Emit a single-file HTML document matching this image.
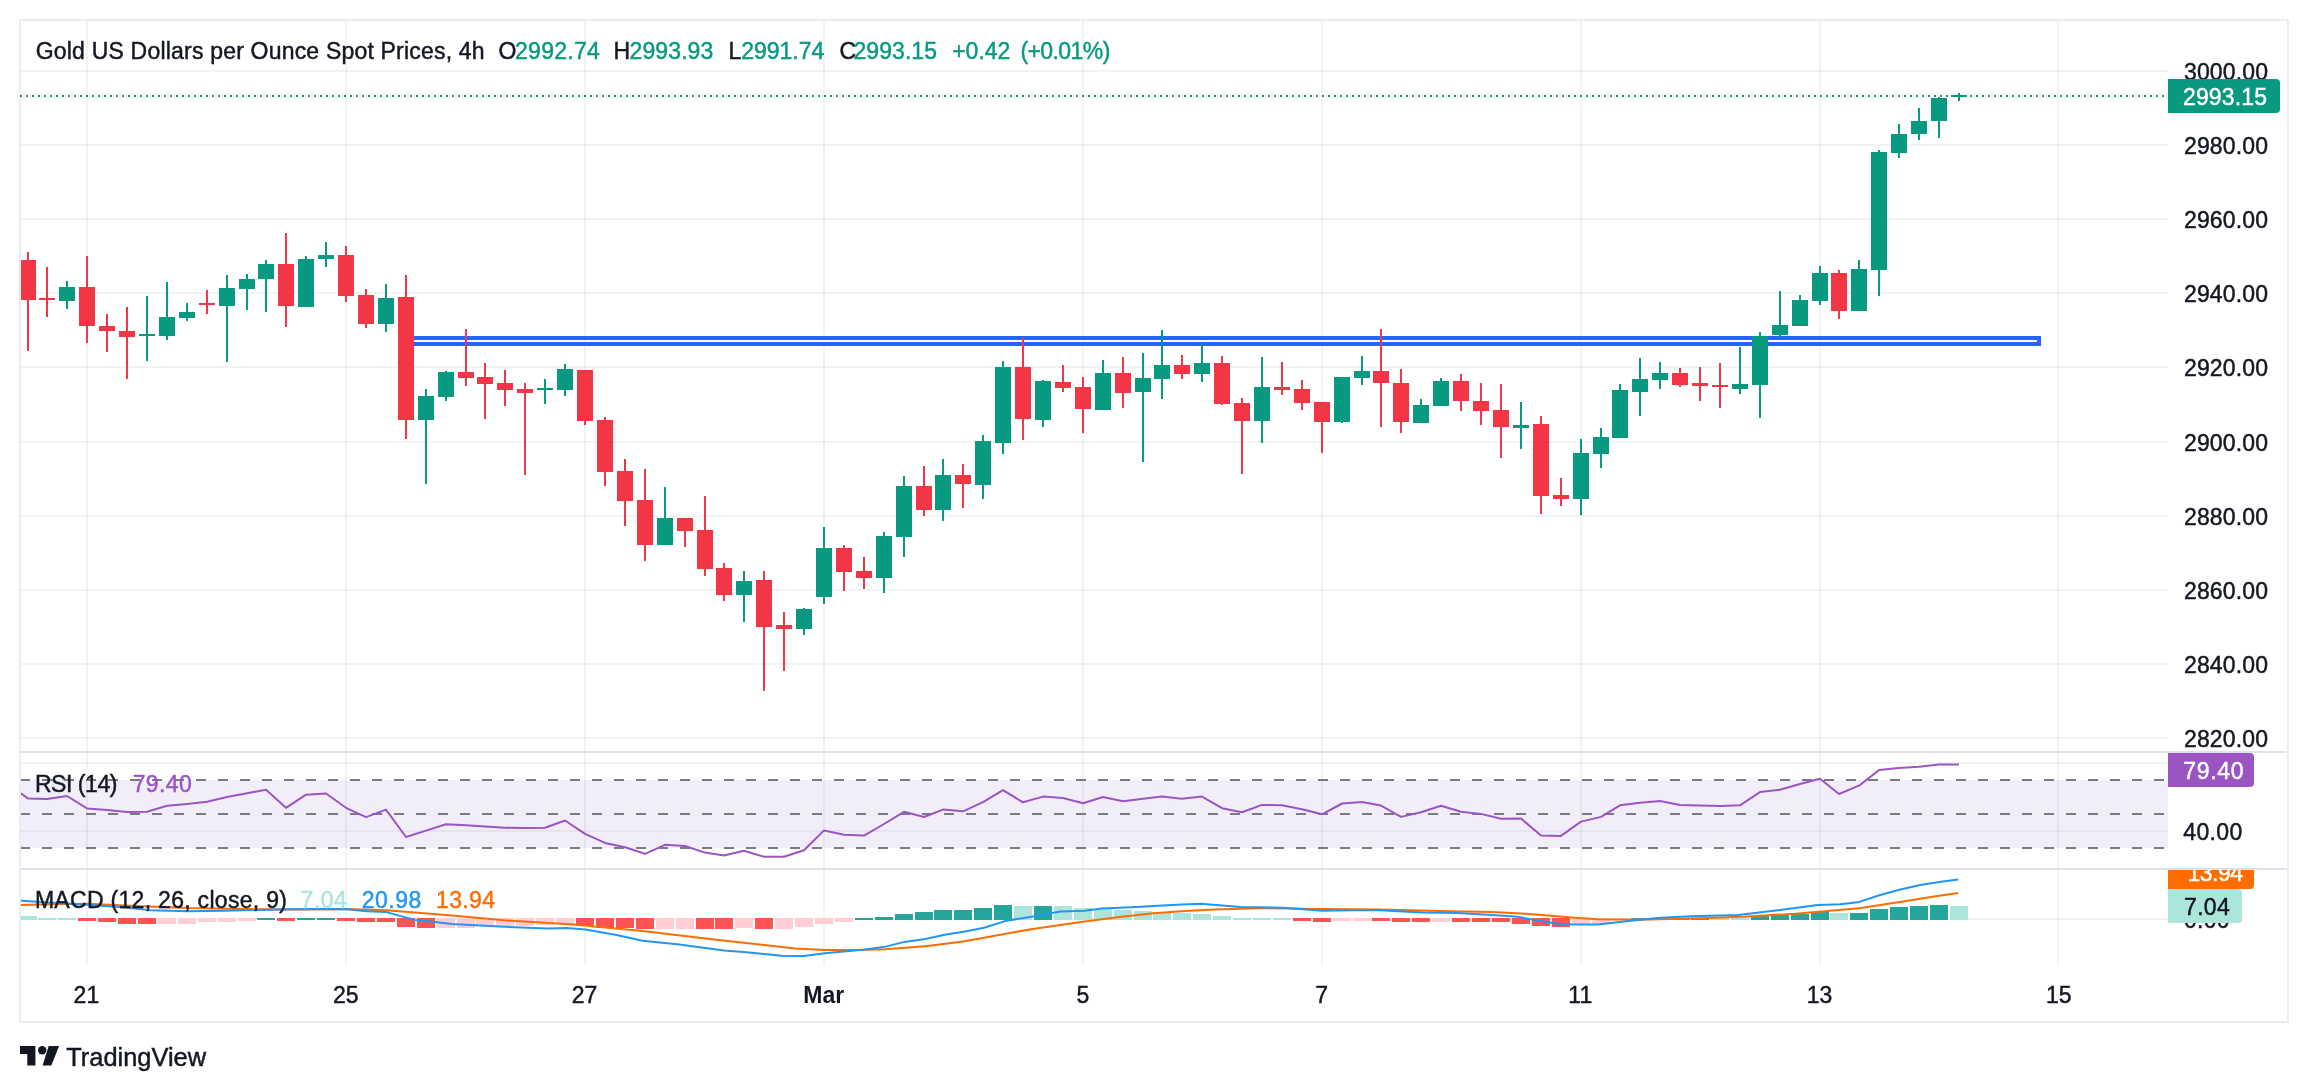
<!DOCTYPE html><html><head><meta charset="utf-8"><title>Gold 4h chart</title><style>html,body{margin:0;padding:0;background:#fff;}body{width:2308px;height:1092px;overflow:hidden;}svg{display:block;will-change:transform;} text{shape-rendering:auto;}</style></head><body><svg width="2308" height="1092" viewBox="0 0 2308 1092" font-family='"Liberation Sans", sans-serif' shape-rendering="crispEdges"><g fill="rgba(42,46,57,0.06)"><rect x="21" y="70" width="2147" height="2"/><rect x="21" y="144" width="2147" height="2"/><rect x="21" y="218" width="2147" height="2"/><rect x="21" y="292" width="2147" height="2"/><rect x="21" y="366" width="2147" height="2"/><rect x="21" y="441" width="2147" height="2"/><rect x="21" y="515" width="2147" height="2"/><rect x="21" y="589" width="2147" height="2"/><rect x="21" y="663" width="2147" height="2"/><rect x="21" y="737" width="2147" height="2"/><rect x="86" y="21" width="2" height="944"/><rect x="345" y="21" width="2" height="944"/><rect x="584" y="21" width="2" height="944"/><rect x="823" y="21" width="2" height="944"/><rect x="1082" y="21" width="2" height="944"/><rect x="1321" y="21" width="2" height="944"/><rect x="1580" y="21" width="2" height="944"/><rect x="1819" y="21" width="2" height="944"/><rect x="2057" y="21" width="2" height="944"/><rect x="21" y="762" width="2147" height="2"/><rect x="21" y="830" width="2147" height="2"/><rect x="21" y="918" width="2147" height="2"/></g>
<rect x="21" y="780" width="2147" height="68" fill="rgba(126,87,194,0.1)"/>
<line x1="20" y1="780" x2="2168" y2="780" stroke="#787B86" stroke-width="2" stroke-dasharray="10 12"/>
<line x1="20" y1="814" x2="2168" y2="814" stroke="#787B86" stroke-width="2" stroke-dasharray="10 12"/>
<line x1="20" y1="848" x2="2168" y2="848" stroke="#787B86" stroke-width="2" stroke-dasharray="10 12"/>
<g fill="#EBECF0"><rect x="19" y="19" width="2270" height="2"/><rect x="19" y="1021" width="2270" height="2"/><rect x="19" y="19" width="2" height="1004"/><rect x="2287" y="19" width="2" height="1004"/></g>
<g fill="#DEE1E9"><rect x="21" y="751" width="2266" height="2"/><rect x="21" y="868" width="2266" height="2"/></g>
<defs><clipPath id="cm"><rect x="21" y="21" width="2147" height="730"/></clipPath><clipPath id="cr"><rect x="21" y="753" width="2147" height="115"/></clipPath><clipPath id="cd"><rect x="21" y="870" width="2147" height="95"/></clipPath></defs>
<line x1="20" y1="96" x2="2168" y2="96" stroke="#089981" stroke-width="2" stroke-dasharray="2 4"/>
<rect x="402" y="338" width="1637" height="6" fill="none" stroke="#2962FF" stroke-width="4"/>
<g clip-path="url(#cm)">
<g fill="#089981"><rect x="66" y="281" width="2" height="28"/><rect x="59" y="287" width="16" height="14"/><rect x="146" y="296" width="2" height="65"/><rect x="139" y="334" width="16" height="2"/><rect x="166" y="282" width="2" height="58"/><rect x="159" y="317" width="16" height="19"/><rect x="186" y="303" width="2" height="18"/><rect x="179" y="312" width="16" height="6"/><rect x="226" y="275" width="2" height="87"/><rect x="219" y="288" width="16" height="18"/><rect x="246" y="274" width="2" height="36"/><rect x="239" y="279" width="16" height="10"/><rect x="265" y="260" width="2" height="52"/><rect x="258" y="264" width="16" height="15"/><rect x="305" y="256" width="2" height="51"/><rect x="298" y="259" width="16" height="48"/><rect x="325" y="242" width="2" height="25"/><rect x="318" y="255" width="16" height="4"/><rect x="385" y="284" width="2" height="48"/><rect x="378" y="298" width="16" height="26"/><rect x="425" y="389" width="2" height="95"/><rect x="418" y="396" width="16" height="24"/><rect x="445" y="371" width="2" height="30"/><rect x="438" y="372" width="16" height="25"/><rect x="544" y="379" width="2" height="25"/><rect x="537" y="388" width="16" height="2"/><rect x="564" y="364" width="2" height="32"/><rect x="557" y="369" width="16" height="21"/><rect x="664" y="487" width="2" height="58"/><rect x="657" y="518" width="16" height="27"/><rect x="743" y="571" width="2" height="51"/><rect x="736" y="581" width="16" height="14"/><rect x="803" y="608" width="2" height="27"/><rect x="796" y="609" width="16" height="20"/><rect x="823" y="527" width="2" height="77"/><rect x="816" y="548" width="16" height="49"/><rect x="883" y="532" width="2" height="61"/><rect x="876" y="536" width="16" height="42"/><rect x="903" y="476" width="2" height="81"/><rect x="896" y="486" width="16" height="51"/><rect x="942" y="459" width="2" height="62"/><rect x="935" y="475" width="16" height="35"/><rect x="982" y="435" width="2" height="64"/><rect x="975" y="441" width="16" height="44"/><rect x="1002" y="361" width="2" height="93"/><rect x="995" y="367" width="16" height="76"/><rect x="1042" y="380" width="2" height="47"/><rect x="1035" y="381" width="16" height="39"/><rect x="1102" y="360" width="2" height="50"/><rect x="1095" y="373" width="16" height="37"/><rect x="1142" y="353" width="2" height="109"/><rect x="1135" y="378" width="16" height="14"/><rect x="1161" y="330" width="2" height="69"/><rect x="1154" y="365" width="16" height="14"/><rect x="1201" y="343" width="2" height="39"/><rect x="1194" y="363" width="16" height="11"/><rect x="1261" y="357" width="2" height="86"/><rect x="1254" y="387" width="16" height="34"/><rect x="1341" y="377" width="2" height="46"/><rect x="1334" y="377" width="16" height="45"/><rect x="1361" y="356" width="2" height="29"/><rect x="1354" y="371" width="16" height="7"/><rect x="1420" y="399" width="2" height="24"/><rect x="1413" y="405" width="16" height="18"/><rect x="1440" y="378" width="2" height="28"/><rect x="1433" y="381" width="16" height="25"/><rect x="1520" y="402" width="2" height="47"/><rect x="1513" y="425" width="16" height="3"/><rect x="1580" y="439" width="2" height="76"/><rect x="1573" y="453" width="16" height="46"/><rect x="1600" y="428" width="2" height="40"/><rect x="1593" y="437" width="16" height="17"/><rect x="1619" y="384" width="2" height="54"/><rect x="1612" y="390" width="16" height="48"/><rect x="1639" y="358" width="2" height="58"/><rect x="1632" y="379" width="16" height="13"/><rect x="1659" y="362" width="2" height="27"/><rect x="1652" y="373" width="16" height="7"/><rect x="1739" y="347" width="2" height="47"/><rect x="1732" y="384" width="16" height="5"/><rect x="1759" y="332" width="2" height="86"/><rect x="1752" y="336" width="16" height="49"/><rect x="1779" y="291" width="2" height="46"/><rect x="1772" y="325" width="16" height="10"/><rect x="1799" y="295" width="2" height="31"/><rect x="1792" y="300" width="16" height="26"/><rect x="1819" y="266" width="2" height="39"/><rect x="1812" y="273" width="16" height="28"/><rect x="1858" y="260" width="2" height="51"/><rect x="1851" y="269" width="16" height="42"/><rect x="1878" y="150" width="2" height="146"/><rect x="1871" y="152" width="16" height="118"/><rect x="1898" y="124" width="2" height="34"/><rect x="1891" y="134" width="16" height="19"/><rect x="1918" y="108" width="2" height="32"/><rect x="1911" y="121" width="16" height="13"/><rect x="1938" y="97" width="2" height="41"/><rect x="1931" y="98" width="16" height="23"/><rect x="1958" y="93" width="2" height="8"/><rect x="1951" y="95" width="16" height="2"/></g>
<g fill="#F23645"><rect x="27" y="252" width="2" height="99"/><rect x="20" y="260" width="16" height="40"/><rect x="46" y="267" width="2" height="50"/><rect x="39" y="298" width="16" height="2"/><rect x="86" y="256" width="2" height="87"/><rect x="79" y="287" width="16" height="39"/><rect x="106" y="314" width="2" height="38"/><rect x="99" y="326" width="16" height="5"/><rect x="126" y="307" width="2" height="72"/><rect x="119" y="331" width="16" height="6"/><rect x="206" y="290" width="2" height="24"/><rect x="199" y="303" width="16" height="2"/><rect x="285" y="233" width="2" height="94"/><rect x="278" y="264" width="16" height="42"/><rect x="345" y="246" width="2" height="56"/><rect x="338" y="255" width="16" height="41"/><rect x="365" y="289" width="2" height="39"/><rect x="358" y="295" width="16" height="29"/><rect x="405" y="275" width="2" height="164"/><rect x="398" y="297" width="16" height="123"/><rect x="465" y="329" width="2" height="57"/><rect x="458" y="372" width="16" height="6"/><rect x="484" y="363" width="2" height="56"/><rect x="477" y="377" width="16" height="7"/><rect x="504" y="370" width="2" height="36"/><rect x="497" y="383" width="16" height="7"/><rect x="524" y="383" width="2" height="92"/><rect x="517" y="389" width="16" height="4"/><rect x="584" y="370" width="2" height="55"/><rect x="577" y="370" width="16" height="51"/><rect x="604" y="417" width="2" height="69"/><rect x="597" y="420" width="16" height="52"/><rect x="624" y="459" width="2" height="67"/><rect x="617" y="471" width="16" height="30"/><rect x="644" y="469" width="2" height="92"/><rect x="637" y="500" width="16" height="45"/><rect x="684" y="518" width="2" height="29"/><rect x="677" y="518" width="16" height="13"/><rect x="704" y="496" width="2" height="80"/><rect x="697" y="530" width="16" height="39"/><rect x="723" y="563" width="2" height="38"/><rect x="716" y="568" width="16" height="27"/><rect x="763" y="571" width="2" height="120"/><rect x="756" y="580" width="16" height="47"/><rect x="783" y="612" width="2" height="59"/><rect x="776" y="625" width="16" height="4"/><rect x="843" y="545" width="2" height="46"/><rect x="836" y="548" width="16" height="24"/><rect x="863" y="557" width="2" height="32"/><rect x="856" y="571" width="16" height="7"/><rect x="923" y="466" width="2" height="50"/><rect x="916" y="486" width="16" height="24"/><rect x="962" y="464" width="2" height="44"/><rect x="955" y="475" width="16" height="9"/><rect x="1022" y="338" width="2" height="102"/><rect x="1015" y="367" width="16" height="52"/><rect x="1062" y="365" width="2" height="27"/><rect x="1055" y="382" width="16" height="6"/><rect x="1082" y="377" width="2" height="56"/><rect x="1075" y="387" width="16" height="22"/><rect x="1122" y="357" width="2" height="51"/><rect x="1115" y="373" width="16" height="20"/><rect x="1181" y="355" width="2" height="24"/><rect x="1174" y="365" width="16" height="9"/><rect x="1221" y="356" width="2" height="49"/><rect x="1214" y="363" width="16" height="41"/><rect x="1241" y="398" width="2" height="76"/><rect x="1234" y="403" width="16" height="18"/><rect x="1281" y="362" width="2" height="33"/><rect x="1274" y="387" width="16" height="3"/><rect x="1301" y="380" width="2" height="30"/><rect x="1294" y="389" width="16" height="14"/><rect x="1321" y="402" width="2" height="51"/><rect x="1314" y="402" width="16" height="20"/><rect x="1380" y="329" width="2" height="98"/><rect x="1373" y="371" width="16" height="12"/><rect x="1400" y="369" width="2" height="64"/><rect x="1393" y="383" width="16" height="39"/><rect x="1460" y="374" width="2" height="37"/><rect x="1453" y="381" width="16" height="20"/><rect x="1480" y="383" width="2" height="42"/><rect x="1473" y="401" width="16" height="10"/><rect x="1500" y="384" width="2" height="74"/><rect x="1493" y="410" width="16" height="17"/><rect x="1540" y="416" width="2" height="98"/><rect x="1533" y="424" width="16" height="72"/><rect x="1560" y="478" width="2" height="28"/><rect x="1553" y="495" width="16" height="4"/><rect x="1679" y="368" width="2" height="19"/><rect x="1672" y="373" width="16" height="12"/><rect x="1699" y="367" width="2" height="34"/><rect x="1692" y="383" width="16" height="3"/><rect x="1719" y="363" width="2" height="45"/><rect x="1712" y="385" width="16" height="2"/><rect x="1838" y="270" width="2" height="49"/><rect x="1831" y="273" width="16" height="38"/></g>
</g>
<g clip-path="url(#cr)"><polyline shape-rendering="geometricPrecision" fill="none" stroke="#9B55C3" stroke-width="2" stroke-linejoin="round" points="20.0,792.7 28.0,798.4 47.0,799.0 67.0,796.0 87.0,808.4 107.0,810.0 127.0,811.9 147.0,811.7 167.0,805.8 187.0,804.0 207.0,801.8 227.0,797.0 247.0,793.3 266.0,789.7 286.0,807.8 306.0,794.7 326.0,793.5 346.0,807.8 366.0,817.1 386.0,809.6 406.0,837.0 426.0,830.6 446.0,824.3 466.0,825.2 485.0,826.4 505.0,827.8 525.0,828.1 545.0,827.8 565.0,820.5 585.0,833.9 605.0,842.9 625.0,847.2 645.0,853.8 665.0,844.8 685.0,846.0 705.0,852.6 724.0,855.5 744.0,850.7 764.0,856.7 784.0,856.7 804.0,850.3 824.0,830.4 844.0,834.7 864.0,835.6 884.0,824.0 904.0,811.8 924.0,817.0 943.0,809.6 963.0,811.3 983.0,802.1 1003.0,790.2 1023.0,802.3 1043.0,796.6 1063.0,798.0 1083.0,803.2 1103.0,797.0 1123.0,801.3 1143.0,798.7 1162.0,796.6 1182.0,798.8 1202.0,796.6 1222.0,808.2 1242.0,812.2 1262.0,804.9 1282.0,805.3 1302.0,809.2 1322.0,814.3 1342.0,803.5 1362.0,802.1 1381.0,805.6 1401.0,816.9 1421.0,812.2 1441.0,805.8 1461.0,811.7 1481.0,813.9 1501.0,818.8 1521.0,818.6 1541.0,835.6 1561.0,835.9 1581.0,821.6 1601.0,816.9 1620.0,805.3 1640.0,802.7 1660.0,801.0 1680.0,805.1 1700.0,805.5 1720.0,806.0 1740.0,805.3 1760.0,792.1 1780.0,789.7 1800.0,784.0 1820.0,778.8 1839.0,794.0 1859.0,785.7 1879.0,770.1 1899.0,767.9 1919.0,766.7 1939.0,764.4 1959.0,764.4"/></g>
<g clip-path="url(#cd)">
<g fill="#26A69A"><rect x="257" y="918" width="18" height="2"/><rect x="297" y="918" width="18" height="2"/><rect x="317" y="918" width="18" height="2"/><rect x="855" y="918" width="18" height="2"/><rect x="875" y="917" width="18" height="3"/><rect x="895" y="914" width="18" height="6"/><rect x="915" y="912" width="18" height="8"/><rect x="934" y="910" width="18" height="10"/><rect x="954" y="910" width="18" height="10"/><rect x="974" y="908" width="18" height="12"/><rect x="994" y="905" width="18" height="15"/><rect x="1034" y="906" width="18" height="14"/><rect x="1631" y="918" width="18" height="2"/><rect x="1651" y="918" width="18" height="2"/><rect x="1671" y="918" width="18" height="2"/><rect x="1691" y="918" width="18" height="2"/><rect x="1751" y="916" width="18" height="4"/><rect x="1771" y="915" width="18" height="5"/><rect x="1791" y="914" width="18" height="6"/><rect x="1811" y="912" width="18" height="8"/><rect x="1850" y="913" width="18" height="7"/><rect x="1870" y="909" width="18" height="11"/><rect x="1890" y="907" width="18" height="13"/><rect x="1910" y="906" width="18" height="14"/><rect x="1930" y="905" width="18" height="15"/></g>
<g fill="#ACE5DC"><rect x="19" y="916" width="18" height="4"/><rect x="38" y="918" width="18" height="2"/><rect x="58" y="918" width="18" height="2"/><rect x="1014" y="906" width="18" height="14"/><rect x="1054" y="906" width="18" height="14"/><rect x="1074" y="908" width="18" height="12"/><rect x="1094" y="909" width="18" height="11"/><rect x="1114" y="910" width="18" height="10"/><rect x="1134" y="911" width="18" height="9"/><rect x="1153" y="912" width="18" height="8"/><rect x="1173" y="913" width="18" height="7"/><rect x="1193" y="914" width="18" height="6"/><rect x="1213" y="916" width="18" height="4"/><rect x="1233" y="918" width="18" height="2"/><rect x="1253" y="918" width="18" height="2"/><rect x="1273" y="918" width="18" height="2"/><rect x="1711" y="918" width="18" height="2"/><rect x="1731" y="918" width="18" height="2"/><rect x="1830" y="913" width="18" height="7"/><rect x="1950" y="906" width="18" height="14"/></g>
<g fill="#FF5252"><rect x="78" y="918" width="18" height="3"/><rect x="98" y="918" width="18" height="4"/><rect x="118" y="918" width="18" height="6"/><rect x="138" y="918" width="18" height="6"/><rect x="277" y="918" width="18" height="3"/><rect x="337" y="918" width="18" height="3"/><rect x="357" y="918" width="18" height="4"/><rect x="377" y="918" width="18" height="4"/><rect x="397" y="918" width="18" height="9"/><rect x="417" y="918" width="18" height="10"/><rect x="576" y="918" width="18" height="8"/><rect x="596" y="918" width="18" height="10"/><rect x="616" y="918" width="18" height="10"/><rect x="636" y="918" width="18" height="11"/><rect x="696" y="918" width="18" height="11"/><rect x="715" y="918" width="18" height="11"/><rect x="755" y="918" width="18" height="11"/><rect x="1293" y="918" width="18" height="3"/><rect x="1313" y="918" width="18" height="4"/><rect x="1372" y="918" width="18" height="3"/><rect x="1392" y="918" width="18" height="4"/><rect x="1412" y="918" width="18" height="4"/><rect x="1452" y="918" width="18" height="4"/><rect x="1472" y="918" width="18" height="4"/><rect x="1492" y="918" width="18" height="4"/><rect x="1512" y="918" width="18" height="6"/><rect x="1532" y="918" width="18" height="8"/><rect x="1552" y="918" width="18" height="9"/></g>
<g fill="#FFCDD2"><rect x="158" y="918" width="18" height="6"/><rect x="178" y="918" width="18" height="6"/><rect x="198" y="918" width="18" height="4"/><rect x="218" y="918" width="18" height="4"/><rect x="238" y="918" width="18" height="3"/><rect x="437" y="918" width="18" height="10"/><rect x="457" y="918" width="18" height="10"/><rect x="476" y="918" width="18" height="8"/><rect x="496" y="918" width="18" height="8"/><rect x="516" y="918" width="18" height="8"/><rect x="536" y="918" width="18" height="7"/><rect x="556" y="918" width="18" height="6"/><rect x="656" y="918" width="18" height="11"/><rect x="676" y="918" width="18" height="11"/><rect x="735" y="918" width="18" height="10"/><rect x="775" y="918" width="18" height="11"/><rect x="795" y="918" width="18" height="9"/><rect x="815" y="918" width="18" height="6"/><rect x="835" y="918" width="18" height="4"/><rect x="1333" y="918" width="18" height="3"/><rect x="1353" y="918" width="18" height="3"/><rect x="1432" y="918" width="18" height="4"/><rect x="1572" y="918" width="18" height="7"/><rect x="1592" y="918" width="18" height="6"/><rect x="1611" y="918" width="18" height="2"/></g>
<polyline shape-rendering="geometricPrecision" fill="none" stroke="#FF6D00" stroke-width="2" stroke-linejoin="round" points="20.2,905.0 49.7,904.3 87.8,903.8 136.3,906.0 188.3,908.1 240.3,909.0 292.3,909.5 344.3,909.0 385.9,910.2 415.0,912.5 452.0,915.4 504.0,920.3 573.3,924.6 642.6,931.0 712.0,939.3 795.0,948.5 824.7,950.1 859.3,950.1 885.3,949.2 925.2,946.3 963.3,941.4 989.3,936.7 1032.6,928.9 1060.4,925.1 1084.6,921.6 1119.3,917.1 1154.0,913.3 1185.0,911.0 1214.7,909.5 1266.7,908.1 1318.6,909.0 1379.3,909.5 1440.0,911.1 1492.0,912.1 1526.6,913.8 1575.0,917.7 1597.7,919.3 1639.3,919.8 1691.3,918.6 1743.3,916.8 1795.3,913.7 1830.0,910.8 1859.4,908.2 1882.0,904.7 1908.0,900.7 1934.0,896.4 1958.2,892.9"/>
<polyline shape-rendering="geometricPrecision" fill="none" stroke="#2196F3" stroke-width="2" stroke-linejoin="round" points="20.2,900.8 37.5,901.7 87.8,904.7 119.0,906.9 139.8,909.0 150.2,910.2 188.3,911.2 223.0,910.7 257.6,909.9 292.3,909.3 344.3,909.0 366.8,911.2 385.9,911.9 398.0,915.4 415.0,919.9 426.0,921.1 452.0,924.1 504.0,926.8 547.3,928.6 566.4,928.0 585.4,929.4 616.6,935.0 642.6,940.7 677.3,944.2 724.1,950.6 746.6,952.3 781.3,955.8 803.9,956.1 824.7,953.2 862.8,949.7 883.6,947.1 904.4,941.9 925.2,939.0 946.0,934.6 965.0,931.5 984.1,927.7 1004.9,921.1 1032.6,916.4 1060.4,911.6 1084.6,910.7 1102.0,908.5 1136.6,906.9 1162.6,905.5 1182.0,904.6 1200.8,903.8 1240.7,906.9 1284.0,907.8 1322.1,910.7 1353.3,910.2 1379.3,910.2 1422.6,912.5 1457.3,913.0 1492.0,915.0 1518.0,916.8 1535.3,920.3 1561.3,924.2 1580.0,924.4 1597.7,924.5 1630.7,920.7 1660.1,917.7 1691.3,916.3 1738.1,915.1 1778.0,910.3 1817.8,905.0 1840.4,904.2 1859.4,901.9 1878.5,895.5 1899.3,889.8 1920.1,885.1 1940.9,881.7 1958.2,879.4"/>
</g>
<g font-size="23"><text x="2184" y="80.2" fill="#131722" textLength="84" lengthAdjust="spacing" stroke="#131722" stroke-width="0.45">3000.00</text><text x="2184" y="154.2" fill="#131722" textLength="84" lengthAdjust="spacing" stroke="#131722" stroke-width="0.45">2980.00</text><text x="2184" y="228.2" fill="#131722" textLength="84" lengthAdjust="spacing" stroke="#131722" stroke-width="0.45">2960.00</text><text x="2184" y="302.2" fill="#131722" textLength="84" lengthAdjust="spacing" stroke="#131722" stroke-width="0.45">2940.00</text><text x="2184" y="376.2" fill="#131722" textLength="84" lengthAdjust="spacing" stroke="#131722" stroke-width="0.45">2920.00</text><text x="2184" y="451.2" fill="#131722" textLength="84" lengthAdjust="spacing" stroke="#131722" stroke-width="0.45">2900.00</text><text x="2184" y="525.2" fill="#131722" textLength="84" lengthAdjust="spacing" stroke="#131722" stroke-width="0.45">2880.00</text><text x="2184" y="599.2" fill="#131722" textLength="84" lengthAdjust="spacing" stroke="#131722" stroke-width="0.45">2860.00</text><text x="2184" y="673.2" fill="#131722" textLength="84" lengthAdjust="spacing" stroke="#131722" stroke-width="0.45">2840.00</text><text x="2184" y="747.2" fill="#131722" textLength="84" lengthAdjust="spacing" stroke="#131722" stroke-width="0.45">2820.00</text><text x="2183.3" y="840.1" fill="#131722" textLength="58.9" lengthAdjust="spacing" stroke="#131722" stroke-width="0.45">40.00</text><text x="2184" y="927.6" fill="#131722" textLength="45.5" lengthAdjust="spacing" stroke="#131722" stroke-width="0.45">0.00</text></g>
<g font-size="23">
<path d="M2168,79 H2276 Q2280,79 2280,83 V109 Q2280,113 2276,113 H2168 Z" fill="#089981" shape-rendering="geometricPrecision"/>
<text x="2183" y="104.7" fill="#fff" textLength="84" lengthAdjust="spacing" stroke="#fff" stroke-width="0.45">2993.15</text>
<path d="M2168,753 H2250 Q2254,753 2254,757 V783 Q2254,787 2250,787 H2168 Z" fill="#9B55C3" shape-rendering="geometricPrecision"/>
<text x="2183.3" y="778.8" fill="#fff" textLength="60.2" lengthAdjust="spacing" stroke="#fff" stroke-width="0.45">79.40</text>
<svg x="2168" y="870" width="120" height="100" overflow="hidden"><path d="M0,-15 H82 Q86,-15 86,-11 V15 Q86,19 82,19 H0 Z" fill="#FF6D00" shape-rendering="geometricPrecision"/><text x="19.5" y="10.6" fill="#fff" textLength="55.5" lengthAdjust="spacing" stroke="#fff" stroke-width="0.45">13.94</text></svg>
<path d="M2168,889 H2238 Q2242,889 2242,893 V919 Q2242,923 2238,923 H2168 Z" fill="#ACE5DC" shape-rendering="geometricPrecision"/>
<text x="2184" y="915" fill="#131722" textLength="45.8" lengthAdjust="spacing" stroke="#131722" stroke-width="0.45">7.04</text>
</g>
<g fill="#131722" font-size="23"><text x="86.4" y="1003" text-anchor="middle" stroke="#131722" stroke-width="0.45">21</text><text x="345.7" y="1003" text-anchor="middle" stroke="#131722" stroke-width="0.45">25</text><text x="584.5" y="1003" text-anchor="middle" stroke="#131722" stroke-width="0.45">27</text><text x="1082.8" y="1003" text-anchor="middle" stroke="#131722" stroke-width="0.45">5</text><text x="1321.7" y="1003" text-anchor="middle" stroke="#131722" stroke-width="0.45">7</text><text x="1580.3" y="1003" text-anchor="middle" stroke="#131722" stroke-width="0.45">11</text><text x="1819.5" y="1003" text-anchor="middle" stroke="#131722" stroke-width="0.45">13</text><text x="2058.7" y="1003" text-anchor="middle" stroke="#131722" stroke-width="0.45">15</text><text x="823.8" y="1003" text-anchor="middle" font-weight="bold">Mar</text></g>
<g font-size="23"><text x="35.7" y="58.7" fill="#131722" textLength="448.9" lengthAdjust="spacing" stroke="#131722" stroke-width="0.45">Gold US Dollars per Ounce Spot Prices, 4h</text><text x="498.5" y="58.7" fill="#131722" stroke="#131722" stroke-width="0.45">O</text><text x="515" y="58.7" fill="#089981" textLength="84.8" lengthAdjust="spacing" stroke="#089981" stroke-width="0.45">2992.74</text><text x="613.5" y="58.7" fill="#131722" stroke="#131722" stroke-width="0.45">H</text><text x="629.6" y="58.7" fill="#089981" textLength="83.7" lengthAdjust="spacing" stroke="#089981" stroke-width="0.45">2993.93</text><text x="728.5" y="58.7" fill="#131722" stroke="#131722" stroke-width="0.45">L</text><text x="741.3" y="58.7" fill="#089981" textLength="83" lengthAdjust="spacing" stroke="#089981" stroke-width="0.45">2991.74</text><text x="839.5" y="58.7" fill="#131722" stroke="#131722" stroke-width="0.45">C</text><text x="853.5" y="58.7" fill="#089981" textLength="83.5" lengthAdjust="spacing" stroke="#089981" stroke-width="0.45">2993.15</text><text x="952.2" y="58.7" fill="#089981" stroke="#089981" stroke-width="0.45">+0.42</text><text x="1020.4" y="58.7" fill="#089981" textLength="89.9" lengthAdjust="spacing" stroke="#089981" stroke-width="0.45">(+0.01%)</text><text x="34.9" y="792" fill="#131722" textLength="82.5" lengthAdjust="spacing" stroke="#131722" stroke-width="0.45">RSI (14)</text><text x="132.7" y="792" fill="#9B55C3" textLength="59" lengthAdjust="spacing" stroke="#9B55C3" stroke-width="0.45">79.40</text><text x="34.9" y="908.3" fill="#131722" textLength="252" lengthAdjust="spacing" stroke="#131722" stroke-width="0.45">MACD (12, 26, close, 9)</text><text x="300.6" y="908.3" fill="#ACE5DC" textLength="46.3" lengthAdjust="spacing" stroke="#ACE5DC" stroke-width="0.45">7.04</text><text x="361.7" y="908.3" fill="#2196F3" textLength="59.7" lengthAdjust="spacing" stroke="#2196F3" stroke-width="0.45">20.98</text><text x="436" y="908.3" fill="#FF6D00" textLength="59" lengthAdjust="spacing" stroke="#FF6D00" stroke-width="0.45">13.94</text></g>
<g fill="#131722" shape-rendering="geometricPrecision"><path d="M20,1046 H35.4 V1065.5 H27.3 V1054 H20 Z"/><circle cx="42.2" cy="1050.2" r="4.2"/><path d="M48.7,1046 H59.1 L51.3,1065.5 H42.6 Z"/><text x="66.3" y="1065.8" font-size="26" textLength="139.7" lengthAdjust="spacingAndGlyphs" stroke="#131722" stroke-width="0.45">TradingView</text></g></svg></body></html>
